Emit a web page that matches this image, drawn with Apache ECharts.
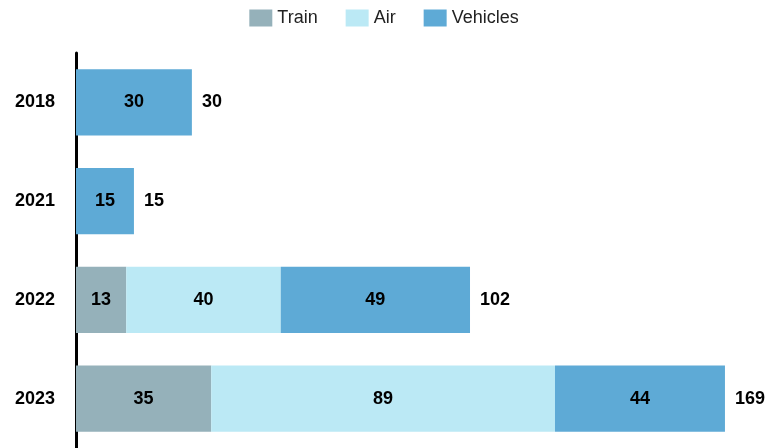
<!DOCTYPE html>
<html>
<head>
<meta charset="UTF-8">
<title>Stacked bars</title>
<script src="https://cdn.jsdelivr.net/npm/echarts@6/dist/echarts.min.js"></script>
</head>
<body style="margin:0;background:#fff">
<div id="main" style="width:768px;height:448px;"></div>
<script type="text/javascript">
// categories, top to bottom
var years = ['2018', '2021', '2022', '2023'];
// series values (null = no segment)
var train = [null, null, 13, 35];
var air = [null, null, 40, 89];
var vehicles = [30, 15, 49, 44];
// total labels as printed on the chart
var totals = [30, 15, 102, 169];

var colors = { Train: '#95b1ba', Air: '#bbe9f5', Vehicles: '#5eaad6' };
var FONT = "'Liberation Sans', Arial, sans-serif";

function segment(name, data) {
  return {
    name: name,
    type: 'bar',
    stack: 'all',
    barWidth: '67%',
    data: data,
    itemStyle: { color: colors[name] },
    label: {
      show: true,
      position: 'inside',
      color: '#000',
      fontWeight: 'bold',
      fontSize: 18,
      fontFamily: FONT
    }
  };
}

var myChart = echarts.init(document.getElementById('main'));
var option = {
  animation: false,
  legend: {
    top: 4,
    left: 'center',
    data: ['Train', 'Air', 'Vehicles'],
    icon: 'rect',
    itemWidth: 23,
    itemHeight: 17,
    itemGap: 28,
    textStyle: { fontSize: 18, color: '#222', fontFamily: FONT }
  },
  grid: { left: 76, top: 53, bottom: -4, width: 676, containLabel: false },
  xAxis: { type: 'value', min: 0, max: 175, show: false },
  yAxis: {
    type: 'category',
    data: years,
    inverse: true,
    axisLine: { show: true, lineStyle: { color: '#000', width: 3 } },
    axisTick: { show: false },
    axisLabel: {
      margin: 21,
      color: '#000',
      fontWeight: 'bold',
      fontSize: 18,
      fontFamily: FONT
    }
  },
  series: [
    segment('Train', train),
    segment('Air', air),
    segment('Vehicles', vehicles),
    {
      name: 'Total',
      type: 'bar',
      stack: 'all',
      data: years.map(function () { return 0; }),
      itemStyle: { color: 'transparent' },
      label: {
        show: true,
        position: 'right',
        distance: 10,
        color: '#000',
        fontWeight: 'bold',
        fontSize: 18,
        fontFamily: FONT,
        formatter: function (p) { return totals[p.dataIndex]; }
      }
    }
  ]
};
myChart.setOption(option);
</script>
</body>
</html>
